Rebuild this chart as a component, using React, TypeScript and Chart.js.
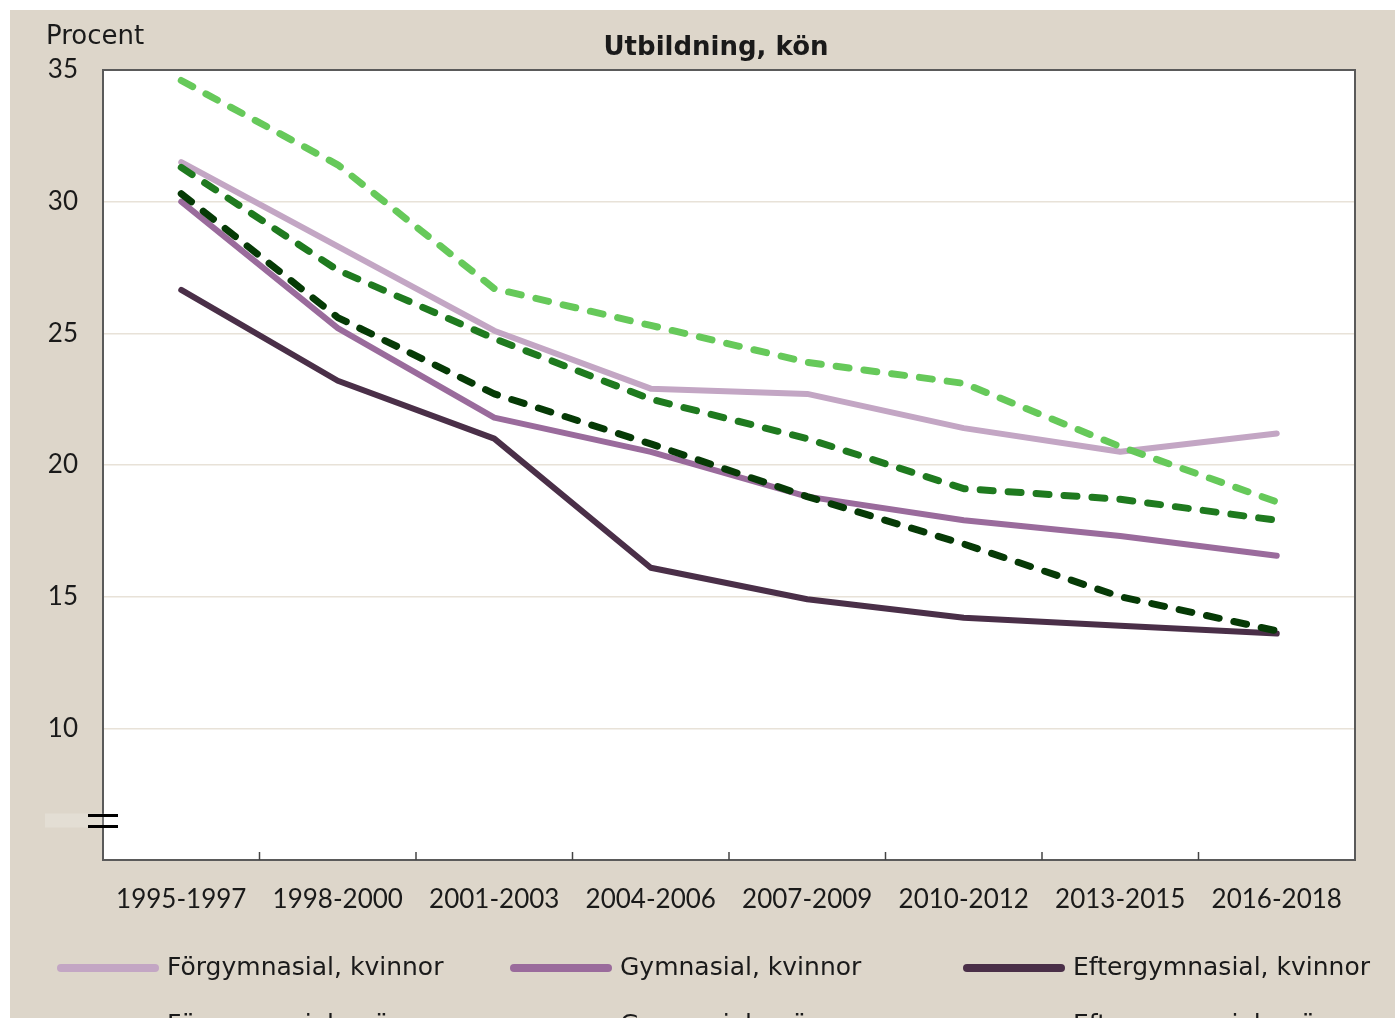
import React, { useEffect, useRef } from "react";
import { Chart, registerables } from "chart.js";

Chart.register(...registerables);

const categories = ["1995-1997", "1998-2000", "2001-2003", "2004-2006", "2007-2009", "2010-2012", "2013-2015", "2016-2018"];
const forgymKvinnor = [31.5, 28.3, 25.1, 22.9, 22.7, 21.4, 20.5, 21.2];
const gymKvinnor = [30.0, 25.2, 21.8, 20.5, 18.8, 17.9, 17.3, 16.55];
const efterKvinnor = [26.65, 23.2, 21.0, 16.1, 14.9, 14.2, 13.9, 13.6];
const forgymMan = [34.6, 31.4, 26.7, 25.3, 23.9, 23.1, 20.7, 18.6];
const gymMan = [31.3, 27.4, 24.8, 22.5, 21.0, 19.1, 18.7, 17.9];
const efterMan = [30.3, 25.6, 22.7, 20.8, 18.8, 17.0, 15.0, 13.7];
const yTicks = [10, 15, 20, 25, 30, 35];

const FONT = "Lato, 'DejaVu Sans', sans-serif";
const WFONT = "'DejaVu Sans', Lato, sans-serif";
const TEXT = "#1a1a1a";

const seriesDefs = [
  { label: "Förgymnasial, kvinnor", data: forgymKvinnor, color: "#c3a6c4", dashed: false },
  { label: "Gymnasial, kvinnor", data: gymKvinnor, color: "#9a6b9c", dashed: false },
  { label: "Eftergymnasial, kvinnor", data: efterKvinnor, color: "#4a2f48", dashed: false },
  { label: "Förgymnasial, män", data: forgymMan, color: "#66c95a", dashed: true },
  { label: "Gymnasial, män", data: gymMan, color: "#1f7a1f", dashed: true },
  { label: "Eftergymnasial, män", data: efterMan, color: "#063a06", dashed: true },
];

const decorPlugin = {
  id: "decor",
  beforeDraw(chart: any) {
    const { ctx, chartArea: a } = chart;
    ctx.save();
    ctx.fillStyle = "#ffffff";
    ctx.fillRect(a.left, a.top, a.right - a.left, a.bottom - a.top);
    ctx.restore();
  },
  afterDatasetsDraw(chart: any) {
    const { ctx, chartArea: a } = chart;
    const xs = chart.scales.x;
    const ys = chart.scales.y;
    ctx.save();
    ctx.strokeStyle = "#5a5a5a";
    ctx.lineWidth = 2;
    ctx.strokeRect(a.left, a.top, a.right - a.left, a.bottom - a.top);
    ctx.lineWidth = 1.5;
    ctx.strokeStyle = "#444";
    for (let i = 1; i < categories.length; i++) {
      const x = (xs.getPixelForTick(i - 1) + xs.getPixelForTick(i)) / 2;
      ctx.beginPath();
      ctx.moveTo(x, a.bottom);
      ctx.lineTo(x, a.bottom - 8);
      ctx.stroke();
    }
    const yb = ys.getPixelForValue(6.5);
    ctx.fillStyle = "rgba(255,255,255,0.2)";
    ctx.fillRect(a.left - 58, yb - 7, 86, 14);
    ctx.strokeStyle = "#000";
    ctx.lineWidth = 3;
    ctx.beginPath();
    ctx.moveTo(a.left - 15, yb - 5);
    ctx.lineTo(a.left + 15, yb - 5);
    ctx.moveTo(a.left - 15, yb + 6);
    ctx.lineTo(a.left + 15, yb + 6);
    ctx.stroke();
    ctx.restore();
  },
  afterDraw(chart: any) {
    const { ctx } = chart;
    ctx.save();
    ctx.fillStyle = TEXT;
    ctx.font = `bold 26px ${WFONT}`;
    ctx.textAlign = "center";
    ctx.textBaseline = "middle";
    ctx.fillText("Utbildning, kön", 706, 38);
    ctx.font = `26px ${WFONT}`;
    ctx.textAlign = "left";
    ctx.fillText("Procent", 36, 27);
    const cols = [47, 500, 953];
    const rows = [958, 1015];
    chart.data.datasets.forEach((ds: any, i: number) => {
      const col = cols[i % 3];
      const row = rows[Math.floor(i / 3)];
      ctx.strokeStyle = ds.borderColor;
      ctx.lineWidth = 8;
      ctx.lineCap = "round";
      ctx.setLineDash(ds.borderDash && ds.borderDash.length ? [14, 14] : []);
      ctx.beginPath();
      ctx.moveTo(col + 4, row);
      ctx.lineTo(col + 98, row);
      ctx.stroke();
      ctx.setLineDash([]);
      ctx.fillStyle = TEXT;
      ctx.font = `25px ${WFONT}`;
      ctx.textAlign = "left";
      ctx.textBaseline = "middle";
      ctx.fillText(ds.label, col + 110, row);
    });
    ctx.restore();
  },
};

export default function App() {
  const ref = useRef<HTMLCanvasElement | null>(null);
  useEffect(() => {
    document.body.style.overflow = "hidden";
    const chart = new Chart(ref.current as HTMLCanvasElement, {
      type: "line",
      data: {
        labels: categories,
        datasets: seriesDefs.map((s) => ({
          label: s.label,
          data: s.data,
          borderColor: s.color,
          backgroundColor: s.color,
          borderWidth: s.dashed ? 7 : 6,
          borderDash: s.dashed ? [13, 15] : [],
          borderCapStyle: "round",
          borderJoinStyle: "round",
          pointRadius: 0,
          tension: 0,
          fill: false,
          order: s.dashed ? 0 : 1,
        })),
      },
      options: {
        animation: false,
        responsive: true,
        maintainAspectRatio: false,
        devicePixelRatio: 1,
        layout: { padding: { left: 0, top: 60, right: 40, bottom: 0 } },
        plugins: { legend: { display: false }, title: { display: false }, tooltip: { enabled: false } },
        scales: {
          x: {
            offset: true,
            grid: { display: false, offset: true },
            border: { display: false },
            ticks: { color: TEXT, font: { family: FONT, size: 26 }, padding: 16, maxRotation: 0, autoSkip: false },
            afterFit: (s: any) => { s.height = 158; },
          },
          y: {
            min: 5,
            max: 35,
            afterBuildTicks: (s: any) => { s.ticks = yTicks.map((v) => ({ value: v })); },
            grid: { color: "#e8e2d8", lineWidth: 1.5, drawTicks: false },
            border: { display: false },
            ticks: { color: TEXT, font: { family: FONT, size: 26 }, padding: 25 },
            afterFit: (s: any) => { s.width = 93; },
          },
        },
      },
      plugins: [decorPlugin],
    } as any);
    return () => chart.destroy();
  }, []);
  return (
    <div style={{ position: "fixed", left: 10, top: 10, width: 1385, height: 1008, background: "#ddd6ca" }}>
      <canvas ref={ref} style={{ width: "100%", height: "100%" }} />
    </div>
  );
}
